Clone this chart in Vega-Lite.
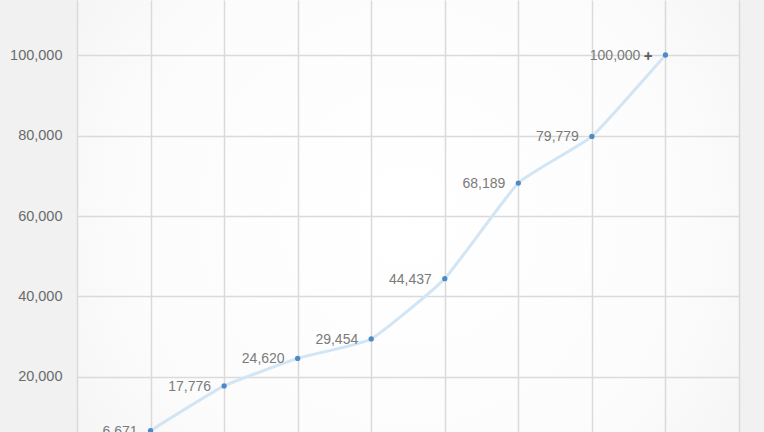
{
  "$schema": "https://vega.github.io/schema/vega-lite/v6.json",
  "autosize": {"type": "none"},
  "width": 662,
  "height": 432,
  "padding": {"left": 77, "top": 0, "right": 25, "bottom": 0},
  "background": "#f1f1f1",
  "config": {"view": {"stroke": null, "fill": {"gradient": "radial", "x1": 0.5, "y1": 0.5, "r1": 0, "x2": 0.5, "y2": 0.5, "r2": 0.75,
        "stops": [{"offset": 0, "color": "#ffffff"}, {"offset": 0.55, "color": "#fcfcfc"}, {"offset": 1, "color": "#f0f0f0"}]}}},
  "data": {"values": [
    {"step": 1, "users": 6671, "label": "6,671"},
    {"step": 2, "users": 17776, "label": "17,776"},
    {"step": 3, "users": 24620, "label": "24,620"},
    {"step": 4, "users": 29454, "label": "29,454"},
    {"step": 5, "users": 44437, "label": "44,437"},
    {"step": 6, "users": 68189, "label": "68,189"},
    {"step": 7, "users": 79779, "label": "79,779"},
    {"step": 8, "users": 100000, "label": "100,000 +"}
  ]},
  "encoding": {
    "x": {"field": "step", "type": "quantitative",
      "scale": {"domain": [0, 9], "nice": false, "zero": false},
      "axis": {"values": [0,1,2,3,4,5,6,7,8,9], "labels": false, "ticks": false, "domain": false, "title": null,
        "grid": true, "gridColor": "#dadada", "gridWidth": 1.5}},
    "y": {"field": "users", "type": "quantitative",
      "scale": {"domain": [6335, 113665], "nice": false, "zero": false},
      "axis": {"values": [20000, 40000, 60000, 80000, 100000], "format": ",d", "ticks": false, "domain": false, "title": null,
        "grid": true, "gridColor": "#dadada", "gridWidth": 1.5,
        "labelFont": "Liberation Sans", "labelFontSize": 14.5, "labelColor": "#6b6b6b", "labelPadding": 15}}
  },
  "layer": [
    {
      "mark": {"type": "line", "interpolate": "cardinal", "tension": 0.6, "color": "#d2e5f5", "strokeWidth": 3},
      "encoding": {}
    },
    {
      "mark": {"type": "circle", "color": "#4d8bc8", "size": 28, "opacity": 1}
    },
    {
      "mark": {"type": "text", "align": "right", "baseline": "middle", "dx": -13, "dy": 1,
        "font": "Liberation Sans", "fontSize": 14, "color": "#7a7a7a"},
      "encoding": {"text": {"field": "label"}}
    },
    {
      "transform": [{"filter": "datum.step == 8"}],
      "mark": {"type": "text", "align": "right", "baseline": "middle", "dx": -13, "dy": 1,
        "font": "Liberation Sans", "fontSize": 15, "fontWeight": "bold", "color": "#5e5e5e", "text": "+"}
    }
  ]
}
